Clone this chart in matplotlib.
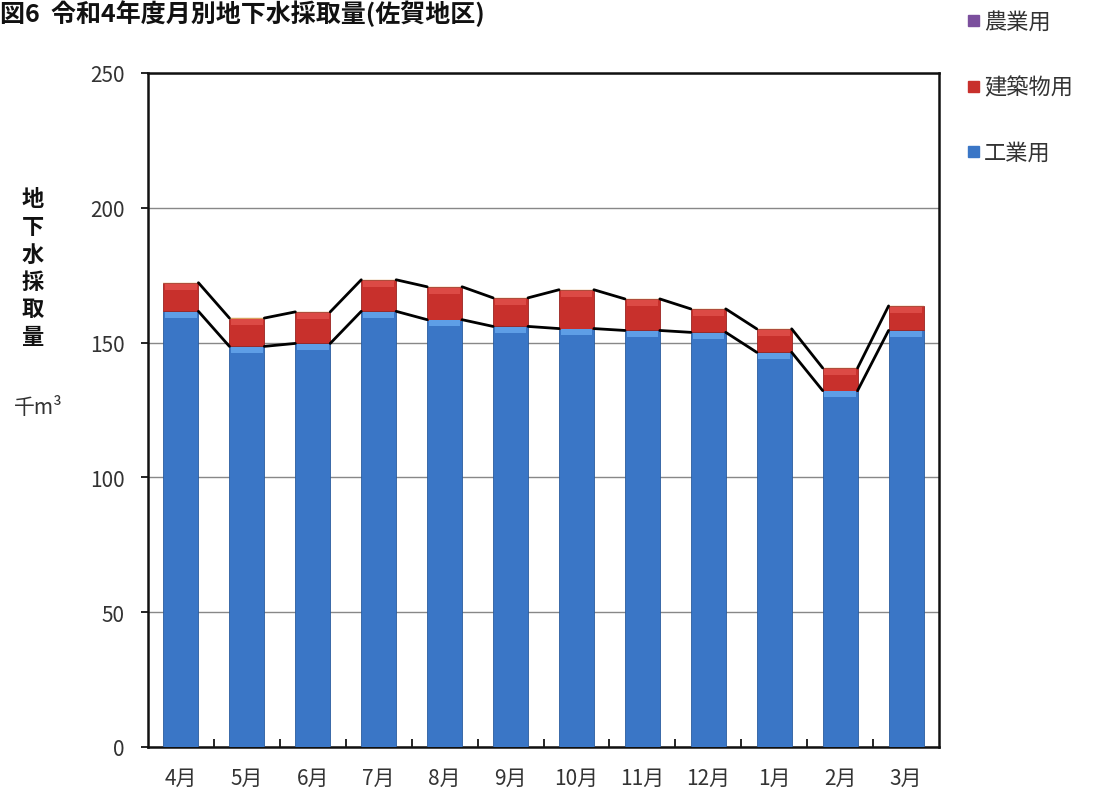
import matplotlib
matplotlib.use("Agg")
import matplotlib.pyplot as plt
import numpy as np

plt.rcParams['font.family'] = ['Noto Sans CJK JP', 'DejaVu Sans']

months = ["4月", "5月", "6月", "7月", "8月", "9月", "10月", "11月", "12月", "1月", "2月", "3月"]
industrial = [161.6, 148.6, 149.7, 161.6, 158.5, 156.0, 155.2, 154.5, 153.8, 146.4, 132.2, 154.5]
building = [10.4, 10.3, 11.5, 11.5, 12.0, 10.4, 14.2, 11.5, 8.5, 8.5, 8.2, 8.9]
agriculture = [0.2, 0.2, 0.2, 0.2, 0.2, 0.2, 0.2, 0.2, 0.2, 0.2, 0.2, 0.2]
yticks = [0, 50, 100, 150, 200, 250]

fig = plt.figure(figsize=(11.04, 8.04), dpi=100)
ax = fig.add_axes([148/1104, 1-748/804, (939-148)/1104, (748-74)/804])

x = np.arange(len(months))
w = 0.53
ind = np.array(industrial)
bld = np.array(building)
agr = np.array(agriculture)

c_blue = "#3a76c6"
c_red = "#c8302c"
c_purple = "#7b4f9d"

ax.bar(x, ind, w, color=c_blue, edgecolor="#2a5c9e", linewidth=0.6, zorder=3)
ax.bar(x, bld, w, bottom=ind, color=c_red, edgecolor="#9a2420", linewidth=0.6, zorder=3)
ax.bar(x, agr, w, bottom=ind + bld, color="#d9a060", edgecolor="#d9a060", linewidth=0.3, zorder=3)

# highlight bands on top of segments (gradient look)
ax.bar(x, np.full(len(x), 2.2), w * 0.9, bottom=ind - 2.4, color="#5e9ee6", linewidth=0, zorder=4)
ax.bar(x, np.full(len(x), 2.2), w * 0.9, bottom=ind + bld - 2.4, color="#dc4a45", linewidth=0, zorder=4)

# series lines
for tops in (ind, ind + bld + agr):
    for i in range(len(x) - 1):
        ax.plot([x[i] + w/2, x[i+1] - w/2], [tops[i], tops[i+1]], color="black", lw=2.0, zorder=5, solid_capstyle="round")

ax.set_xlim(-0.5, len(x) - 0.5)
ax.set_ylim(0, 250)
ax.set_yticks(yticks)
ax.set_yticklabels([str(v) for v in yticks], fontsize=15, color="#333333")
ax.tick_params(axis="y", direction="out", length=5, width=1.2, pad=12)
ax.set_xticks(x)
ax.set_xticklabels(months, fontsize=15, color="#333333")
ax.tick_params(axis="x", length=0, pad=14)
ax.set_xticks(np.arange(0.5, len(x) - 0.5, 1), minor=True)
ax.tick_params(axis="x", which="minor", direction="in", length=6, width=1.2)

ax.yaxis.grid(True, color="#888888", lw=1.0, zorder=0)
ax.set_axisbelow(True)
for s in ax.spines.values():
    s.set_linewidth(1.8)
    s.set_color("#111111")

# y label (vertical characters)
for k, ch in enumerate("地下水採取量"):
    fig.text(33/1104, 1 - (200 + k*27.5)/804, ch, fontsize=16, fontweight="bold", ha="center", va="center", color="#111111")
fig.text(38/1104, 1 - 408/804, "千m³", fontsize=15, ha="center", va="center", color="#333333")

# title
fig.text(0.0, 1 - 14/804, "図6  令和4年度月別地下水採取量(佐賀地区)", fontsize=18, fontweight="bold", ha="left", va="center", color="#111111")

# legend
leg_items = [("農業用", c_purple, 22), ("建築物用", c_red, 88), ("工業用", c_blue, 153)]
for label, col, ypx in leg_items:
    fig.patches.append(plt.Rectangle((968/1104, 1 - (ypx + 5)/804), 11/1104, 11/804, transform=fig.transFigure, color=col, figure=fig))
    fig.text(984/1104, 1 - ypx/804, label, fontsize=16, ha="left", va="center", color="#333333")

fig.savefig("out.png", dpi=100)
